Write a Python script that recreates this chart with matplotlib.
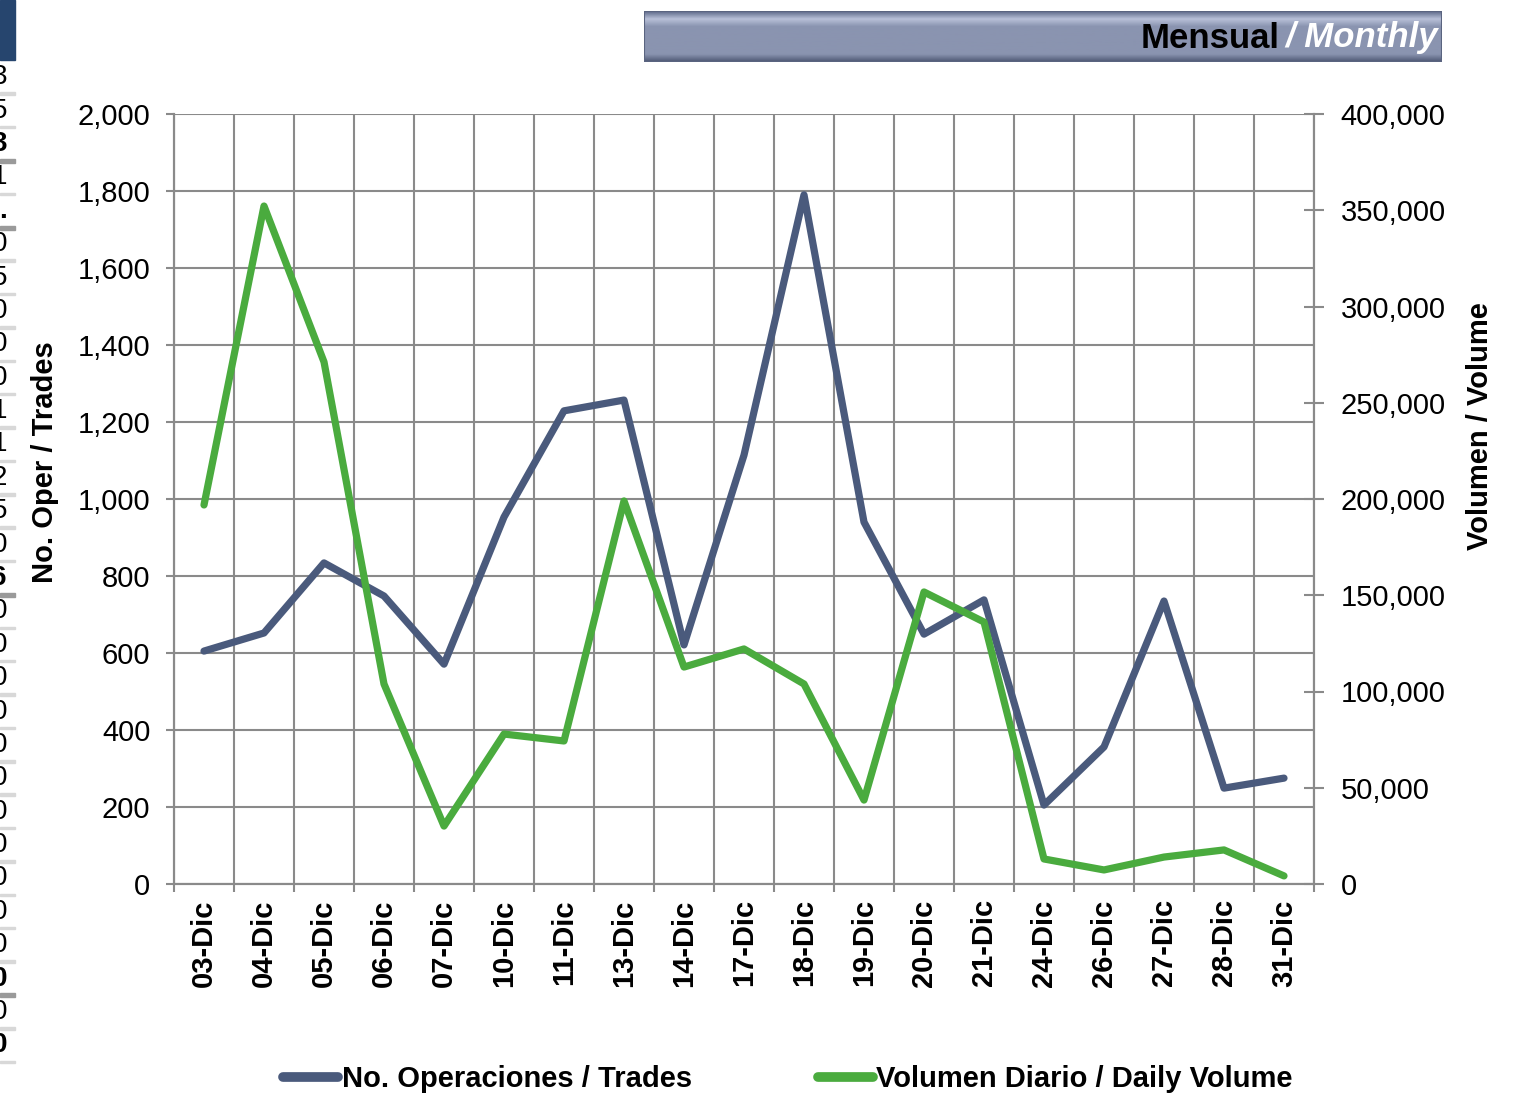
import matplotlib
matplotlib.use("Agg")
import matplotlib.pyplot as plt
import numpy as np
from matplotlib.patches import Rectangle
from matplotlib.lines import Line2D
from matplotlib.ticker import FuncFormatter, FixedLocator

days = ["03-Dic", "04-Dic", "05-Dic", "06-Dic", "07-Dic", "10-Dic", "11-Dic", "13-Dic",
        "14-Dic", "17-Dic", "18-Dic", "19-Dic", "20-Dic", "21-Dic", "24-Dic", "26-Dic",
        "27-Dic", "28-Dic", "31-Dic"]
trades = [605, 652, 834, 748, 571, 953, 1229, 1257, 621, 1114, 1790, 940, 649, 738,
          205, 356, 735, 249, 275]
volume = [196900, 352200, 271200, 103900, 30100, 77900, 74300, 199000, 112700, 122100,
          103900, 43600, 151700, 136100, 13000, 7300, 14000, 17700, 4200]
left_ticks = [0, 200, 400, 600, 800, 1000, 1200, 1400, 1600, 1800, 2000]
right_ticks = [0, 50000, 100000, 150000, 200000, 250000, 300000, 350000, 400000]

# cropped table fragment visible at the left edge of the reference
edge_digits = ["3", "5", "3", "1", ".", "0", "5", "0", "0", "0", "1", "1", "2", "5", "0",
               "6", "0", "0", "0", "0", "0", "0", "0", "0", "0", "0", "0", "0", "0", "0"]
edge_bold = [2, 4, 15, 27, 29]

plt.rcParams['font.family'] = ['Liberation Sans', 'DejaVu Sans']

BLUE = "#4a5a7c"
GREEN = "#4aab3e"
GRID = "#8a8a8a"
FS = 21

fig = plt.figure(figsize=(15.25, 10.98), dpi=100)
W, H = 1525, 1098
ax = fig.add_axes([174 / W, 1 - 884 / H, (1314 - 174) / W, (884 - 114) / H])
ax2 = ax.twinx()

x = np.arange(len(days))
ax.plot(x, trades, color=BLUE, lw=5.2, solid_capstyle='round', solid_joinstyle='round', zorder=3)
ax2.plot(x, volume, color=GREEN, lw=5.2, solid_capstyle='round', solid_joinstyle='round', zorder=3)

ax.set_xlim(-0.5, len(days) - 0.5)
ax.set_ylim(0, 2000)
ax2.set_ylim(0, 400000)

ax.set_yticks(left_ticks)
ax.yaxis.set_major_formatter(FuncFormatter(lambda v, p: f"{int(v):,}"))
ax2.set_yticks(right_ticks)
ax2.yaxis.set_major_formatter(FuncFormatter(lambda v, p: f"{int(v):,}"))

ax.xaxis.set_major_locator(FixedLocator(np.arange(-0.5, len(days), 1.0)))
ax.xaxis.set_major_formatter(FuncFormatter(lambda v, p: ""))
ax.xaxis.set_minor_locator(FixedLocator(x))
ax.set_xticklabels(days, minor=True, rotation=90, fontsize=FS, fontweight='bold')
ax.tick_params(axis='x', which='minor', length=0, pad=11)
ax.tick_params(axis='x', which='major', length=6, color=GRID, width=1.5, direction='out')

ax.grid(True, which='major', axis='both', color=GRID, lw=1.5)
ax.set_axisbelow(True)

ax.tick_params(axis='y', labelsize=FS, length=6, color=GRID, width=1.5, pad=11)
ax2.tick_params(axis='y', labelsize=FS, length=14, color=GRID, width=1.5, direction='inout', pad=12)

for a in (ax, ax2):
    a.spines['top'].set_visible(False)
    for sp in ['left', 'right', 'bottom']:
        a.spines[sp].set_color(GRID)
        a.spines[sp].set_linewidth(1.5)

fig.text(45 / W, 1 - 462 / H, "No. Oper / Trades", rotation=90, fontsize=FS, fontweight='bold',
         ha='center', va='center')
fig.text(1480 / W, 1 - 426 / H, "Volumen / Volume", rotation=90, fontsize=FS, fontweight='bold',
         ha='center', va='center')

# legend
h1 = Line2D([], [], color=BLUE, lw=7, solid_capstyle='round')
h2 = Line2D([], [], color=GREEN, lw=7, solid_capstyle='round')
fig.legend([h1, h2], ["No. Operaciones / Trades", "Volumen Diario / Daily Volume"],
           loc='center', bbox_to_anchor=(788 / W, 1 - 1079 / H), ncol=2,
           frameon=False, prop={'size': FS, 'weight': 'bold'}, handlelength=1.9,
           handletextpad=0.12, columnspacing=4.3, borderpad=0, borderaxespad=0)

# header bar with gradient
x0, y0, w, h = 644 / W, 1 - 62 / H, (1442 - 644) / W, 51 / H
n = 64
cols = np.zeros((n, 1, 3))
c_top = np.array([0x5e, 0x6a, 0x8a]) / 255
c_hi = np.array([0xb8, 0xc0, 0xd8]) / 255
c_mid = np.array([0x8a, 0x94, 0xb0]) / 255
c_bot = np.array([0x4e, 0x58, 0x74]) / 255
for i in range(n):
    t = i / (n - 1)
    if t < 0.15:
        c = c_top + (c_hi - c_top) * (t / 0.15)
    elif t < 0.3:
        c = c_hi + (c_mid - c_hi) * ((t - 0.15) / 0.15)
    elif t < 0.85:
        c = c_mid
    else:
        c = c_mid + (c_bot - c_mid) * ((t - 0.85) / 0.15)
    cols[i, 0] = c
hax = fig.add_axes([x0, y0, w, h])
hax.imshow(cols, aspect='auto', extent=[0, 1, 0, 1], origin='upper')
hax.set_xlim(0, 1); hax.set_ylim(0, 1)
hax.axis('off')
hax.add_patch(Rectangle((0, 0), 1, 1, fill=False, ec="#5a6480", lw=1.5))

t2 = fig.text(1438 / W, 1 - 38 / H, "/ Monthly", color='white', fontsize=25,
              fontweight='bold', style='italic', ha='right', va='center')
fig.canvas.draw()
bb = t2.get_window_extent()
fig.text(bb.x0 / fig.bbox.width - 0.004, 1 - 38 / H, "Mensual", color='black', fontsize=25,
         fontweight='bold', ha='right', va='center')

# left-edge fragment: dark blue block, separators and cut-off digits
fig.patches.append(Rectangle((0, 1 - 60 / H), 15 / W, 60 / H, transform=fig.transFigure,
                             color="#26456e", zorder=5))
step = (1062 - 94) / (len(edge_digits) - 1)
for i, d in enumerate(edge_digits):
    yl = 94 + i * step
    dark = i in (2, 4, 15, 27)
    fig.patches.append(Rectangle((0, 1 - (yl + (2 if dark else 1)) / H), 15 / W,
                                 (4 if dark else 2.5) / H, transform=fig.transFigure,
                                 color="#9a9a9a" if dark else "#d8d8d8", zorder=4))
    yc = yl - step / 2
    fig.text(7 / W, 1 - yc / H, d, fontsize=20, ha='right', va='center',
             fontweight='bold' if i in edge_bold else 'normal', color='black')

fig.savefig("out.png", dpi=100)
